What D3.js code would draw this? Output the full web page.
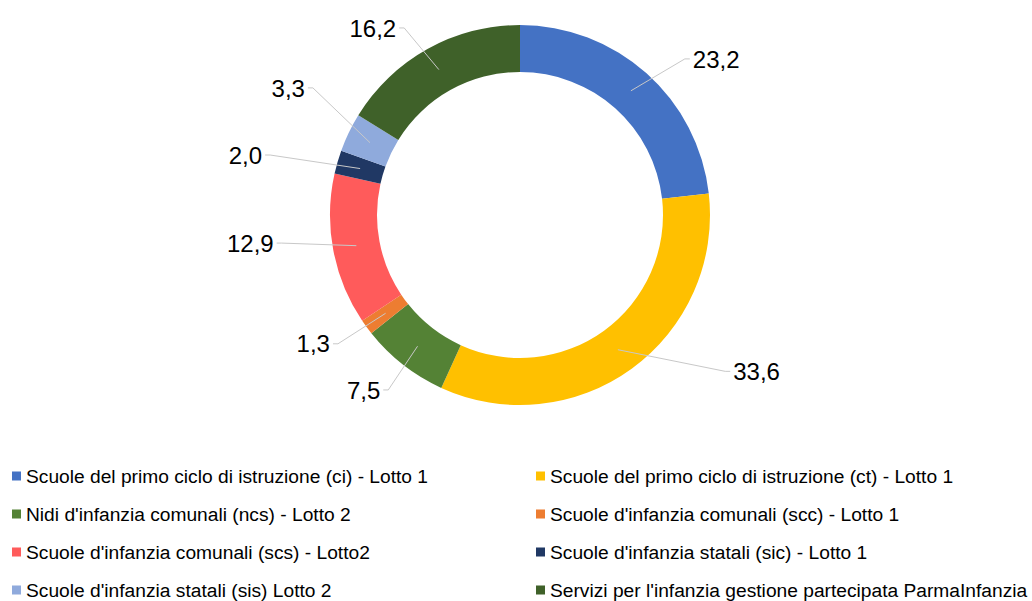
<!DOCTYPE html>
<html>
<head>
<meta charset="utf-8">
<script src="https://cdn.jsdelivr.net/npm/d3@7"></script>
<style>
  body { margin: 0; background: #fff; }
  text { font-family: "Liberation Sans", Arial, sans-serif; fill: #000; }
</style>
</head>
<body>
<div id="chart"></div>
<script>
// data
var categories = [
  "Scuole del primo ciclo di istruzione (ci) - Lotto 1",
  "Scuole del primo ciclo di istruzione (ct) - Lotto 1",
  "Nidi d'infanzia comunali (ncs) - Lotto 2",
  "Scuole d'infanzia comunali (scc) - Lotto 1",
  "Scuole d'infanzia comunali (scs) - Lotto2",
  "Scuole d'infanzia statali (sic) - Lotto 1",
  "Scuole d'infanzia statali (sis) Lotto 2",
  "Servizi per l'infanzia gestione partecipata ParmaInfanzia"
];
var values = [23.2, 33.6, 7.5, 1.3, 12.9, 2.0, 3.3, 16.2];
var colors = ["#4472C4", "#FFC000", "#548235", "#ED7D31", "#FF5B5B", "#203864", "#8FAADC", "#3F6129"];

// label placement tweaks (angle shift in degrees, radius of the elbow)
var labelShift = [4.8, -16.7, -1, 0.9, 3.9, -2.7, 5.8, -2.6];
var labelRadius = [227, 258, 219, 223, 240, 257, 243, 220];

var width = 1032, height = 601;
var cx = 520, cy = 215;
var outerR = 190, innerR = 143;

var svg = d3.select("#chart").append("svg")
  .attr("width", width)
  .attr("height", height);

var fmt = d3.formatLocale({ decimal: ",", thousands: ".", grouping: [3], currency: ["", "€"] }).format(".1f");

var pie = d3.pie().sort(null).value(function (d) { return d; });
var arcs = pie(values);

var arc = d3.arc().innerRadius(innerR).outerRadius(outerR);
var midArc = d3.arc().innerRadius((innerR + outerR) / 2).outerRadius((innerR + outerR) / 2);

var g = svg.append("g").attr("transform", "translate(" + cx + "," + cy + ")");

g.selectAll("path.slice")
  .data(arcs)
  .enter()
  .append("path")
  .attr("class", "slice")
  .attr("d", arc)
  .attr("fill", function (d, i) { return colors[i]; });

// leader lines + labels
arcs.forEach(function (d, i) {
  var c = midArc.centroid(d);
  var a = (d.startAngle + d.endAngle) / 2 + labelShift[i] * Math.PI / 180;
  var r = labelRadius[i];
  var ex = r * Math.sin(a), ey = -r * Math.cos(a);
  var side = ex >= 0 ? 1 : -1;
  var hx = ex + side * 5;

  g.append("polyline")
    .attr("points", [c, [ex, ey], [hx, ey]].map(function (p) { return p.join(","); }).join(" "))
    .attr("fill", "none")
    .attr("stroke", "#c8c8c8")
    .attr("stroke-width", 1);

  g.append("text")
    .attr("x", hx + side * 3)
    .attr("y", ey)
    .attr("dy", "0.36em")
    .attr("text-anchor", side > 0 ? "start" : "end")
    .style("font-size", "24px")
    .text(fmt(values[i]));
});

// legend
var legend = svg.append("g").attr("class", "legend");
var colX = [12, 536];
var rowY = d3.scalePoint().domain(d3.range(4)).range([476, 590]);

var item = legend.selectAll("g")
  .data(categories)
  .enter()
  .append("g")
  .attr("transform", function (d, i) {
    return "translate(" + colX[i % 2] + "," + rowY(Math.floor(i / 2)) + ")";
  });

item.append("rect")
  .attr("x", 0)
  .attr("y", -4.5)
  .attr("width", 9)
  .attr("height", 9)
  .attr("fill", function (d, i) { return colors[i]; });

item.append("text")
  .attr("x", 14)
  .attr("y", 0)
  .attr("dy", "0.36em")
  .style("font-size", "19.2px")
  .text(function (d) { return d; });
</script>
</body>
</html>
